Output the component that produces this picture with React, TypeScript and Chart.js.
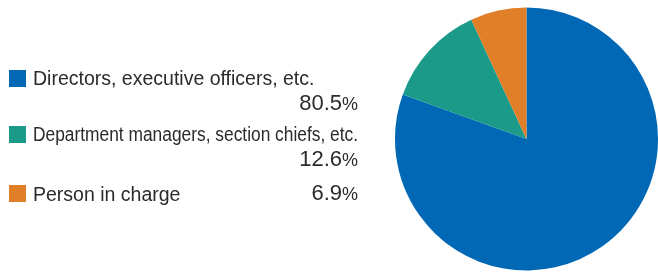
import React, { useEffect, useRef } from "react";
import { Chart, registerables } from "chart.js";

Chart.register(...registerables);

const categories = [
  "Directors, executive officers, etc.",
  "Department managers, section chiefs, etc.",
  "Person in charge",
];
const values = [80.5, 12.6, 6.9];
const valueLabels = ["80.5", "12.6", "6.9"];
const colors = ["#0068b5", "#1b9a89", "#e07f28"];
const labelScale = [1, 0.89, 1];

const FONT = "'Liberation Sans', Arial, Helvetica, sans-serif";

export default function App() {
  const ref = useRef<HTMLCanvasElement | null>(null);

  useEffect(() => {
    if (!ref.current) return;
    const chart = new Chart(ref.current, {
      type: "pie",
      data: {
        labels: categories,
        datasets: [
          {
            data: values,
            backgroundColor: colors,
            borderWidth: 0,
          },
        ],
      },
      options: {
        animation: false,
        responsive: false,
        maintainAspectRatio: false,
        layout: { padding: { left: 395, right: 0, top: 7, bottom: 2 } },
        plugins: {
          legend: { display: false },
          tooltip: { enabled: false },
        },
      },
    });
    return () => chart.destroy();
  }, []);

  const rows = [
    { sq: 70, text: 68.5, pct: 92.4 },
    { sq: 126, text: 124.5, pct: 148.4 },
    { sq: 185, text: 185, pct: 182 },
  ];

  return (
    <div
      style={{
        position: "fixed",
        left: 0,
        top: 0,
        width: 658,
        height: 273,
        background: "#fff",
        fontFamily: FONT,
        color: "#2b2b2b",
      }}
    >
      <canvas
        ref={ref}
        width={658}
        height={273}
        style={{ position: "absolute", left: 0, top: 0, width: 658, height: 273 }}
      />
      {categories.map((c, i) => (
        <React.Fragment key={c}>
          <div
            style={{
              position: "absolute",
              left: 9,
              top: rows[i].sq,
              width: 17,
              height: 17,
              background: colors[i],
            }}
          />
          <div
            style={{
              position: "absolute",
              left: 33,
              top: rows[i].text,
              fontSize: 19.5,
              lineHeight: 1,
              whiteSpace: "nowrap",
              transform: `scaleX(${labelScale[i]})`,
              transformOrigin: "left center",
            }}
          >
            {c}
          </div>
          <div
            style={{
              position: "absolute",
              left: 0,
              width: 358,
              top: rows[i].pct,
              textAlign: "right",
              fontSize: 22,
              lineHeight: 1,
              whiteSpace: "nowrap",
            }}
          >
            {valueLabels[i]}
            <span style={{ fontSize: 18 }}>%</span>
          </div>
        </React.Fragment>
      ))}
    </div>
  );
}
